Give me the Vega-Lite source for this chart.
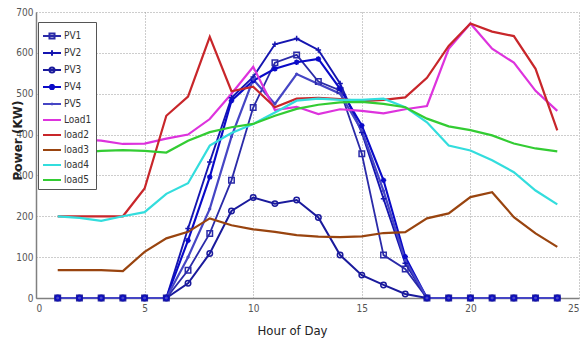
{
  "$schema": "https://vega.github.io/schema/vega-lite/v6.json",
  "width": 543,
  "height": 286,
  "autosize": {"type": "none"},
  "padding": {"left": 36, "top": 12, "right": 3, "bottom": 42},
  "background": "white",
  "config": {
    "view": {"stroke": null},
    "font": "Liberation Sans Narrow, DejaVu Sans Condensed, sans-serif"
  },
  "data": {
    "values": [
      {"h": 1, "PV1": 0, "PV2": 0, "PV3": 0, "PV4": 0, "PV5": 0, "Load1": 390, "load2": 200, "load3": 68, "load4": 200, "load5": 358},
      {"h": 2, "PV1": 0, "PV2": 0, "PV3": 0, "PV4": 0, "PV5": 0, "Load1": 388, "load2": 200, "load3": 68, "load4": 196, "load5": 356},
      {"h": 3, "PV1": 0, "PV2": 0, "PV3": 0, "PV4": 0, "PV5": 0, "Load1": 385, "load2": 200, "load3": 68, "load4": 189, "load5": 360},
      {"h": 4, "PV1": 0, "PV2": 0, "PV3": 0, "PV4": 0, "PV5": 0, "Load1": 377, "load2": 200, "load3": 66, "load4": 200, "load5": 362},
      {"h": 5, "PV1": 0, "PV2": 0, "PV3": 0, "PV4": 0, "PV5": 0, "Load1": 378, "load2": 268, "load3": 113, "load4": 210, "load5": 360},
      {"h": 6, "PV1": 0, "PV2": 0, "PV3": 0, "PV4": 0, "PV5": 0, "Load1": 390, "load2": 446, "load3": 146, "load4": 255, "load5": 356},
      {"h": 7, "PV1": 68, "PV2": 170, "PV3": 36, "PV4": 141, "PV5": 100, "Load1": 400, "load2": 493, "load3": 162, "load4": 281, "load5": 385},
      {"h": 8, "PV1": 158, "PV2": 333, "PV3": 109, "PV4": 296, "PV5": 218, "Load1": 438, "load2": 639, "load3": 195, "load4": 373, "load5": 406},
      {"h": 9, "PV1": 288, "PV2": 490, "PV3": 213, "PV4": 483, "PV5": 395, "Load1": 500, "load2": 506, "load3": 178, "load4": 404, "load5": 418},
      {"h": 10, "PV1": 466, "PV2": 541, "PV3": 246, "PV4": 532, "PV5": 535, "Load1": 566, "load2": 517, "load3": 168, "load4": 426, "load5": 426},
      {"h": 11, "PV1": 576, "PV2": 621, "PV3": 231, "PV4": 561, "PV5": 475, "Load1": 460, "load2": 467, "load3": 162, "load4": 454, "load5": 446},
      {"h": 12, "PV1": 595, "PV2": 635, "PV3": 240, "PV4": 577, "PV5": 548, "Load1": 468, "load2": 488, "load3": 154, "load4": 483, "load5": 463},
      {"h": 13, "PV1": 530, "PV2": 607, "PV3": 197, "PV4": 585, "PV5": 524, "Load1": 450, "load2": 490, "load3": 150, "load4": 488, "load5": 473},
      {"h": 14, "PV1": 508, "PV2": 525, "PV3": 105, "PV4": 512, "PV5": 500, "Load1": 462, "load2": 487, "load3": 149, "load4": 485, "load5": 479},
      {"h": 15, "PV1": 353, "PV2": 405, "PV3": 56, "PV4": 422, "PV5": 410, "Load1": 458, "load2": 482, "load3": 151, "load4": 485, "load5": 480},
      {"h": 16, "PV1": 105, "PV2": 243, "PV3": 32, "PV4": 288, "PV5": 262, "Load1": 452, "load2": 485, "load3": 159, "load4": 488, "load5": 475},
      {"h": 17, "PV1": 71, "PV2": 85, "PV3": 10, "PV4": 101, "PV5": 92, "Load1": 462, "load2": 491, "load3": 161, "load4": 467, "load5": 467},
      {"h": 18, "PV1": 0, "PV2": 0, "PV3": 0, "PV4": 0, "PV5": 0, "Load1": 470, "load2": 539, "load3": 195, "load4": 430, "load5": 439},
      {"h": 19, "PV1": 0, "PV2": 0, "PV3": 0, "PV4": 0, "PV5": 0, "Load1": 610, "load2": 617, "load3": 207, "load4": 373, "load5": 420},
      {"h": 20, "PV1": 0, "PV2": 0, "PV3": 0, "PV4": 0, "PV5": 0, "Load1": 672, "load2": 672, "load3": 247, "load4": 361, "load5": 411},
      {"h": 21, "PV1": 0, "PV2": 0, "PV3": 0, "PV4": 0, "PV5": 0, "Load1": 610, "load2": 652, "load3": 259, "load4": 337, "load5": 398},
      {"h": 22, "PV1": 0, "PV2": 0, "PV3": 0, "PV4": 0, "PV5": 0, "Load1": 576, "load2": 641, "load3": 198, "load4": 308, "load5": 378},
      {"h": 23, "PV1": 0, "PV2": 0, "PV3": 0, "PV4": 0, "PV5": 0, "Load1": 507, "load2": 561, "load3": 158, "load4": 263, "load5": 366},
      {"h": 24, "PV1": 0, "PV2": 0, "PV3": 0, "PV4": 0, "PV5": 0, "Load1": 458, "load2": 410, "load3": 125, "load4": 229, "load5": 359}
    ]
  },
  "transform": [
    {"fold": ["PV1", "PV2", "PV3", "PV4", "PV5", "Load1", "load2", "load3", "load4", "load5"], "as": ["series", "value"]}
  ],
  "encoding": {
    "x": {
      "field": "h", "type": "quantitative",
      "scale": {"domain": [0, 25], "nice": false, "zero": false},
      "axis": {
        "values": [0, 5, 10, 15, 20, 25], "title": "Hour of Day",
        "grid": true, "gridColor": "#9a9a9a", "gridDash": [1, 2], "gridWidth": 1,
        "domainColor": "#808080", "domainWidth": 1.5, "tickSize": 0,
        "labelFontSize": 10, "labelColor": "#555", "labelPadding": 5,
        "titleFontSize": 13, "titleFontWeight": "normal", "titleColor": "#222",
        "titleX": 256, "titleY": 36, "titleBaseline": "alphabetic"
      }
    },
    "y": {
      "field": "value", "type": "quantitative",
      "scale": {"domain": [0, 700], "nice": false},
      "axis": {
        "values": [0, 100, 200, 300, 400, 500, 600, 700], "title": "Power (KW)",
        "grid": true, "gridColor": "#9a9a9a", "gridDash": [1, 2], "gridWidth": 1,
        "domainColor": "#808080", "domainWidth": 1.5, "tickSize": 0,
        "labelFontSize": 10, "labelColor": "#555", "labelPadding": 3,
        "titleFont": "DejaVu Sans", "titleFontSize": 12, "titleFontWeight": "bold", "titleColor": "#222",
        "titleX": -19, "titleY": 128, "titleAngle": -90, "titleAlign": "center", "titleBaseline": "middle"
      }
    },
    "color": {
      "field": "series", "type": "nominal",
      "scale": {
        "domain": ["PV1", "PV2", "PV3", "PV4", "PV5", "Load1", "load2", "load3", "load4", "load5"],
        "range": ["#2a2aa8", "#1515b0", "#1a1a9c", "#0a0ac8", "#4545c4", "#dd33dd", "#c8262a", "#99440f", "#33dddd", "#33cc33"]
      },
      "legend": {
        "title": null, "orient": "none", "legendX": 2, "legendY": 10,
        "strokeColor": "#555", "fillColor": "white", "padding": 4,
        "symbolType": "stroke", "symbolSize": 324, "symbolStrokeWidth": 2,
        "labelFontSize": 10, "labelColor": "#333", "labelOffset": 2, "rowPadding": 0,
        "encode": {
          "symbols": {
            "update": {
              "shape": {"signal": "datum.value==='PV1' ? 'M-1,0H1M-0.28,-0.28H0.28V0.28H-0.28Z' : datum.value==='PV2' ? 'M-1,0H1M0,-0.3V0.3' : datum.value==='PV3' ? 'M-1,0H1M0.28,0A0.28,0.28 0 1,1 -0.28,0A0.28,0.28 0 1,1 0.28,0' : datum.value==='PV4' ? 'M-1,0H1M-0.25,-0.25L0.25,0.25M-0.25,0.25L0.25,-0.25M0,-0.32V0.32' : datum.value==='PV5' ? 'M-1,0H1M0,-0.15V0.15' : 'M-1,0H1'"}
            }
          }
        }
      }
    }
  },
  "layer": [
    {
      "transform": [{"filter": "indexof(datum.series, 'PV') === 0"}],
      "mark": {"type": "line", "clip": false},
      "encoding": {
        "strokeWidth": {
          "field": "series", "type": "nominal", "legend": null,
          "scale": {"domain": ["PV1", "PV2", "PV3", "PV4", "PV5"], "range": [1.8, 2.2, 1.8, 2.6, 1.5]}
        }
      }
    },
    {
      "transform": [{"filter": "indexof(datum.series, 'PV') !== 0"}],
      "mark": {"type": "line", "clip": false, "strokeWidth": 2.2},
      "encoding": {}
    },
    {
      "transform": [{"filter": "indexof(datum.series, 'PV') === 0"}],
      "mark": {"type": "point", "filled": false, "size": 30, "strokeWidth": 1.5, "opacity": 1, "clip": false},
      "encoding": {
        "fill": {"condition": {"test": "datum.value === 0", "value": "#1010c0"}, "value": "transparent"},
        "shape": {
          "field": "series", "type": "nominal", "legend": null,
          "scale": {
            "domain": ["PV1", "PV2", "PV3", "PV4", "PV5"],
            "range": ["square", "M-1,0H1M0,-1V1", "circle", "M-1,0H1M0,-1V1M-0.7,-0.7L0.7,0.7M-0.7,0.7L0.7,-0.7", "M-0.3,0A0.3,0.3 0 1,1 0.3,0A0.3,0.3 0 1,1 -0.3,0"]
          }
        }
      }
    }
  ]
}
